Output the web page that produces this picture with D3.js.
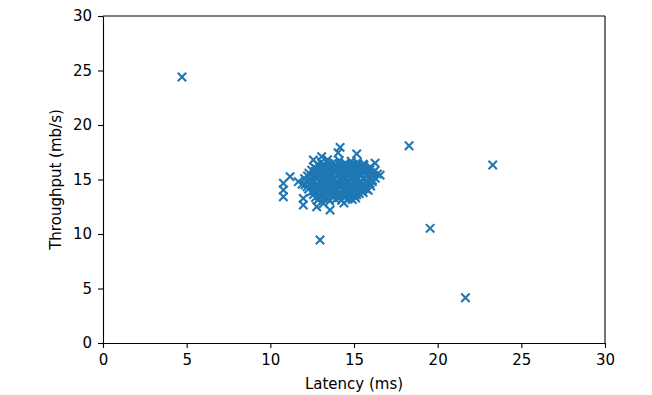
<!DOCTYPE html>
<html>
<head>
<meta charset="utf-8">
<script src="https://cdn.jsdelivr.net/npm/d3@7"></script>
<style>
  body { margin: 0; background: #fff; }
  .axis text { font-family: "DejaVu Sans", sans-serif; font-size: 15px; fill: #000; }
  .axis path, .axis line { stroke: #000; stroke-width: 1.1px; }
  .label { font-family: "DejaVu Sans", sans-serif; font-size: 15px; fill: #000; text-anchor: middle; }
</style>
</head>
<body>
<div class="chart"></div>
<script>
// values: [latency (ms), throughput (mb/s)]
var cluster = [
  [13.05,16.62],[13.42,16.81],[13.78,16.55],[14.12,16.74],[14.46,16.49],[14.83,16.68],[15.21,16.58],[15.55,16.41],
  [12.62,16.12],[12.95,15.98],[13.27,16.21],[13.61,16.05],[13.94,16.27],[14.29,15.96],[14.63,16.18],[14.97,16.02],
  [15.32,16.24],[15.66,15.94],[15.98,16.15],
  [12.31,15.58],[12.66,15.71],[12.98,15.49],[13.33,15.66],[13.69,15.52],[14.02,15.73],[14.38,15.47],[14.72,15.62],
  [15.07,15.55],[15.43,15.77],[15.78,15.51],[16.12,15.64],
  [12.05,15.08],[12.41,14.96],[12.77,15.19],[13.11,15.02],[13.47,15.23],[13.83,14.97],[14.18,15.14],[14.53,15.01],
  [14.89,15.26],[15.24,15.05],[15.59,15.18],[15.94,14.99],[16.27,15.12],
  [12.08,14.52],[12.44,14.71],[12.79,14.47],[13.14,14.63],[13.49,14.44],[13.86,14.68],[14.21,14.55],[14.57,14.72],
  [14.92,14.49],[15.27,14.64],[15.63,14.51],[15.96,14.66],
  [12.28,14.12],[12.61,13.97],[12.96,14.21],[13.31,14.05],[13.66,14.24],[14.01,13.99],[14.37,14.16],[14.72,14.03],
  [15.08,14.19],[15.43,13.96],[15.71,14.15],
  [12.58,13.62],[12.93,13.49],[13.27,13.71],[13.62,13.55],[13.98,13.66],[14.33,13.47],[14.68,13.63],[15.02,13.52],
  [15.31,13.72],
  [12.84,13.12],[13.19,13.24],[13.55,13.03],[13.91,13.18],[14.26,13.09],[14.63,13.21],
  [13.2,15.35],[13.6,14.85],[14.0,15.4],[14.4,14.85],[14.8,15.9],[14.1,16.45],[13.7,16.0],[15.1,16.4],[15.4,15.3],
  [13.4,14.3],[14.6,14.3],[14.0,14.6],[14.3,15.7],[13.1,14.9],[15.8,15.95],[15.0,14.9],[14.9,13.85],[13.8,13.9],
  [12.82,16.38],[13.15,16.31],[13.5,16.42],[13.85,16.33],[14.2,16.3],[14.55,16.4],[14.9,16.32],[15.25,16.37],[15.6,16.3],
  [12.47,15.86],[12.8,15.8],[13.15,15.9],[13.5,15.83],[13.85,15.88],[14.2,15.82],[14.55,15.9],[14.9,15.8],
  [15.25,15.87],[15.6,15.82],[15.95,15.89],[16.25,15.8],
  [12.22,15.33],[12.58,15.38],[12.93,15.31],[13.62,15.32],[14.35,15.3],[14.7,15.36],[15.05,15.32],[15.75,15.37],
  [16.1,15.3],[16.4,15.5],
  [12.25,14.83],[12.6,14.88],[12.95,14.82],[13.3,14.87],[13.95,14.84],[14.25,14.9],[14.7,14.82],[15.4,14.86],
  [15.75,14.82],[16.1,14.8],
  [12.2,14.33],[12.6,14.38],[12.95,14.32],[13.75,14.37],[14.2,14.3],[14.95,14.34],[15.3,14.38],[15.65,14.32],[16.0,14.4],
  [12.45,13.86],[12.8,13.8],[13.1,13.88],[13.45,13.84],[14.15,13.82],[14.5,13.88],[15.2,13.86],[15.55,13.8],
  [12.7,13.35],[13.05,13.38],[13.4,13.32],[13.75,13.4],[14.1,13.35],[14.45,13.38],[14.8,13.33],[15.1,13.3],
  [12.74,16.0],[13.1,16.12],[13.44,15.98],[13.8,16.14],[14.45,16.05],[14.8,16.12],[15.13,15.97],[15.48,16.08],
  [12.5,15.2],[12.85,15.6],[13.5,15.55],[13.9,15.6],[14.55,15.55],[14.95,15.62],[15.3,15.55],[15.65,15.65],
  [12.4,14.55],[13.0,14.65],[13.65,14.6],[14.4,14.6],[14.75,14.55],[15.1,14.6],[15.45,14.5],[15.8,14.6],
  [12.9,14.05],[13.5,13.98],[13.85,14.15],[14.55,14.0],[14.9,14.08],[15.25,14.05],[15.55,14.12],
  [13.0,13.6],[13.45,13.62],[13.8,13.52],[14.2,13.6],[14.5,13.55],[14.85,13.6],[15.15,13.6],
  [14.17,17.95],[14.05,17.45],[15.16,17.35],[12.57,16.8],[13.07,17.1],[11.18,15.26],[11.67,14.8],[11.9,14.55],
  [10.78,14.65],[10.78,14.04],[10.78,13.42],[11.97,13.27],[11.97,12.66],[12.77,12.5],[13.57,12.2],[13.17,12.8],
  [16.56,15.4],[16.26,16.5],[16.1,14.95],[15.85,14.0],[14.4,12.85],[14.9,13.15]
];
var outliers = [
  [4.72,24.4],[18.29,18.1],[23.29,16.33],[19.55,10.52],[21.66,4.15],[12.97,9.45]
];
var xTicks = [0, 5, 10, 15, 20, 25, 30];
var yTicks = [0, 5, 10, 15, 20, 25, 30];

// dimensions
var margin = {top: 16, right: 47, bottom: 52, left: 103};
var width = 652 - margin.left - margin.right;
var height = 395 - margin.top - margin.bottom;
var arm = 4.2;

var x = d3.scaleLinear().domain([0, 30]).range([0, width]);
var y = d3.scaleLinear().domain([0, 30]).range([height, 0]);

var svg = d3.select(".chart")
  .append("svg")
  .attr("width", 652)
  .attr("height", 395);

var chart = svg.append("g")
  .attr("transform", "translate(" + margin.left + "," + margin.top + ")");

// markers
var points = cluster.concat(outliers);
chart.selectAll(".pt")
  .data(points)
  .enter()
  .append("path")
  .attr("class", "pt")
  .attr("transform", function(d) {
    return "translate(" + x(d[0]) + "," + y(d[1]) + ")";
  })
  .attr("d", "M" + (-arm) + "," + (-arm) + "L" + arm + "," + arm +
             "M" + (-arm) + "," + arm + "L" + arm + "," + (-arm))
  .attr("stroke", "#1f77b4")
  .attr("stroke-width", 2.1)
  .attr("fill", "none");

// axes
chart.append("g")
  .attr("class", "axis")
  .attr("transform", "translate(0," + height + ")")
  .call(d3.axisBottom(x).tickValues(xTicks).tickSize(5).tickPadding(6).tickSizeOuter(0));
chart.append("g")
  .attr("class", "axis")
  .call(d3.axisLeft(y).tickValues(yTicks).tickSize(5).tickPadding(6).tickSizeOuter(0));

// top and right spines
chart.append("line")
  .attr("x1", 0).attr("x2", width).attr("y1", 0).attr("y2", 0)
  .attr("stroke", "#000").attr("stroke-width", 1.1);
chart.append("line")
  .attr("x1", width).attr("x2", width).attr("y1", 0).attr("y2", height)
  .attr("stroke", "#000").attr("stroke-width", 1.1);

// labels
chart.append("text")
  .attr("class", "label")
  .attr("x", width / 2)
  .attr("y", height + 46)
  .text("Latency (ms)");
chart.append("text")
  .attr("class", "label")
  .attr("transform", "rotate(-90)")
  .attr("x", -height / 2)
  .attr("y", 61 - margin.left)
  .text("Throughput (mb/s)");
</script>
</body>
</html>
